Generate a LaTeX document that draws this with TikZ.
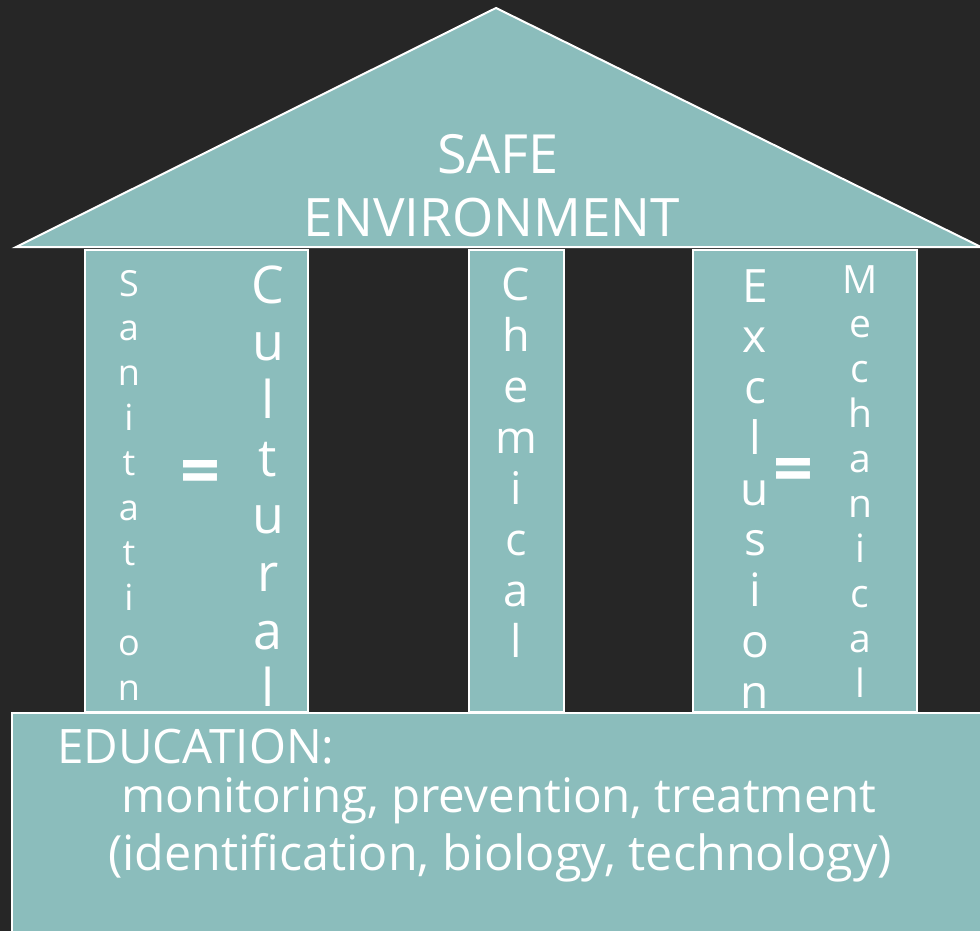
\documentclass[tikz,border=0pt]{standalone}
\usepackage{fontspec}
\setmainfont{Open Sans}
\definecolor{bg}{HTML}{262626}
\definecolor{tealfill}{HTML}{8BBDBC}
\begin{document}
\begin{tikzpicture}[x=1pt,y=-1pt,
  block/.style={fill=tealfill,draw=white,line width=2pt,inner sep=0pt,anchor=north west},
  lbl/.style={text=white,inner sep=0pt,anchor=base},
  eqsign/.style={text=white,inner sep=0pt,anchor=center,font=\fontsize{70}{70}\selectfont\bfseries},
]
\useasboundingbox (0,0) rectangle (980,931);
\clip (0,0) rectangle (980,931);
\fill[bg] (0,0) rectangle (980,931);
% roof
\coordinate (rl) at (16,247);
\coordinate (rt) at (496,8);
\coordinate (rr) at (981,247);
\draw[block] (rl) -- (rt) -- (rr) -- cycle;
% pillars
\node[block,minimum width=223pt,minimum height=462pt] (p1) at (84,249) {};
\node[block,minimum width=95pt,minimum height=462pt] (p2) at (468,249) {};
\node[block,minimum width=224pt,minimum height=462pt] (p3) at (692,249) {};
% base
\node[block,minimum width=990pt,minimum height=240pt] (base) at (11,712) {};
% roof text
\node[lbl,font=\fontsize{54}{54}\selectfont] (safe) at (498,173) {SAFE};
\node[lbl,font=\fontsize{53}{53}\selectfont] (env) at (492,236) {ENVIRONMENT};
% vertical words
\foreach \l [count=\i from 0] in {S,a,n,i,t,a,t,i,o,n}
  \node[lbl,font=\fontsize{36}{36}\selectfont] (san\i) at (129,{296+\i*44.9}) {\l};
\foreach \l [count=\i from 0] in {C,u,l,t,u,r,a,l}
  \node[lbl,font=\fontsize{52}{52}\selectfont] (cul\i) at (268,{303+\i*57.7}) {\l};
\foreach \l [count=\i from 0] in {C,h,e,m,i,c,a,l}
  \node[lbl,font=\fontsize{45}{45}\selectfont] (che\i) at (516,{300+\i*51}) {\l};
\foreach \l [count=\i from 0] in {E,x,c,l,u,s,i,o,n}
  \node[lbl,font=\fontsize{46}{46}\selectfont] (exc\i) at (755,{302+\i*50.75}) {\l};
\foreach \l [count=\i from 0] in {M,e,c,h,a,n,i,c,a,l}
  \node[lbl,font=\fontsize{39}{39}\selectfont] (mec\i) at (860,{293+\i*44.9}) {\l};
\node[eqsign] (eq1) at (200,478) {=};
\node[eqsign] (eq2) at (793,476) {=};
% base text
\node[lbl,anchor=base west,font=\fontsize{47.5}{47.5}\selectfont] (edu) at (57,763) {EDUCATION:};
\node[lbl,font=\fontsize{47.5}{47.5}\selectfont] (mon) at (499,812) {monitoring, prevention, treatment};
\node[lbl,font=\fontsize{48.5}{48.5}\selectfont] (ide) at (500,870) {(identification, biology, technology)};
\end{tikzpicture}
\end{document}
